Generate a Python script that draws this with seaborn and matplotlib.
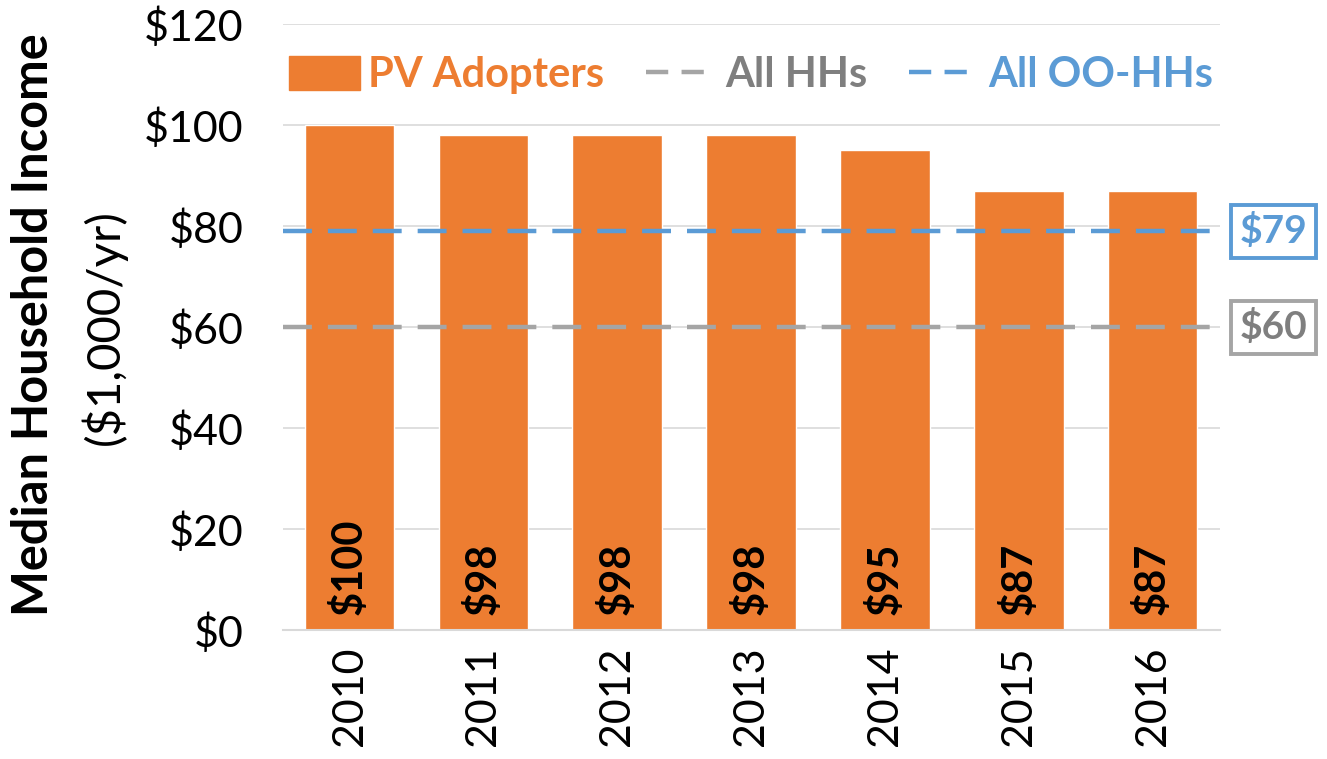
import pandas as pd
import matplotlib.pyplot as plt
import seaborn as sns
from matplotlib.patches import Patch
from matplotlib.lines import Line2D

# chart data
years = ['2010', '2011', '2012', '2013', '2014', '2015', '2016']
pv_adopters = [100, 98, 98, 98, 95, 87, 87]
all_hhs = 60
all_oo_hhs = 79
y_ticks = [0, 20, 40, 60, 80, 100, 120]

orange = '#ED7D31'
gray = '#A5A5A5'
dark_gray = '#7F7F7F'
blue = '#5B9BD5'

sns.set_theme(style='white')
plt.rcParams['font.family'] = ['Lato', 'DejaVu Sans']

df = pd.DataFrame({'year': years, 'income': pv_adopters})

fig = plt.figure(figsize=(13.27, 7.59), dpi=100)
ax = fig.add_axes([0.213, 0.170, 0.706, 0.798])

sns.barplot(data=df, x='year', y='income', color=orange, saturation=1,
            width=0.67, ax=ax, zorder=2)

# reference lines
ax.axhline(all_oo_hhs, color=blue, lw=3.2, dashes=(6.5, 3.6), zorder=3)
ax.axhline(all_hhs, color=gray, lw=3.2, dashes=(6.5, 3.6), zorder=3)

# bar labels
for i, v in enumerate(pv_adopters):
    ax.text(i, 3, f'${v}', rotation=90, ha='center', va='bottom',
            fontsize=30, fontweight='bold', color='black', zorder=4)

ax.set_ylim(0, 120)
ax.set_xlim(-0.5, len(years) - 0.5)
ax.set_yticks(y_ticks)
ax.set_yticklabels([f'${t}' for t in y_ticks], fontsize=31, color='black')
ax.tick_params(axis='x', labelrotation=90, labelsize=31, labelcolor='black',
               length=0, pad=12)
ax.tick_params(axis='y', length=0, pad=28)
ax.grid(axis='y', color='#D9D9D9', lw=1.2, zorder=0)
ax.set_axisbelow(True)
for s in ['top', 'right', 'left']:
    ax.spines[s].set_visible(False)
ax.spines['bottom'].set_color('#D9D9D9')
ax.spines['bottom'].set_linewidth(1.5)
ax.set_xlabel('')
ax.set_ylabel('')

# y axis title (two lines)
fig.text(0.025, 0.572, 'Median Household Income', rotation=90, ha='center',
         va='center', fontsize=35, fontweight='bold', color='black')
fig.text(0.078, 0.569, '($1,000/yr)', rotation=90, ha='center',
         va='center', fontsize=34, color='black')

# right side value boxes
ax.text(1.058, all_oo_hhs, f'${all_oo_hhs}', transform=ax.get_yaxis_transform(),
        ha='center', va='center', fontsize=28, fontweight='bold', color=blue,
        bbox=dict(boxstyle='square,pad=0.22', fc='white', ec=blue, lw=2.8),
        clip_on=False)
ax.text(1.058, all_hhs, f'${all_hhs}', transform=ax.get_yaxis_transform(),
        ha='center', va='center', fontsize=28, fontweight='bold', color=dark_gray,
        bbox=dict(boxstyle='square,pad=0.22', fc='white', ec=gray, lw=2.8),
        clip_on=False)

handles = [Patch(color=orange),
           Line2D([], [], color=gray, lw=3.2, dashes=(5, 3)),
           Line2D([], [], color=blue, lw=3.2, dashes=(5, 3))]
labels = ['PV Adopters', 'All HHs', 'All OO-HHs']
leg = ax.legend(handles, labels, loc='upper center', bbox_to_anchor=(0.5, 1.01),
                ncol=3, frameon=False, handlelength=1.7, handleheight=0.9,
                handletextpad=0.2, columnspacing=1.0,
                prop={'weight': 'bold', 'size': 30})
for t, c in zip(leg.get_texts(), [orange, dark_gray, blue]):
    t.set_color(c)

fig.savefig('out.png', dpi=100)
